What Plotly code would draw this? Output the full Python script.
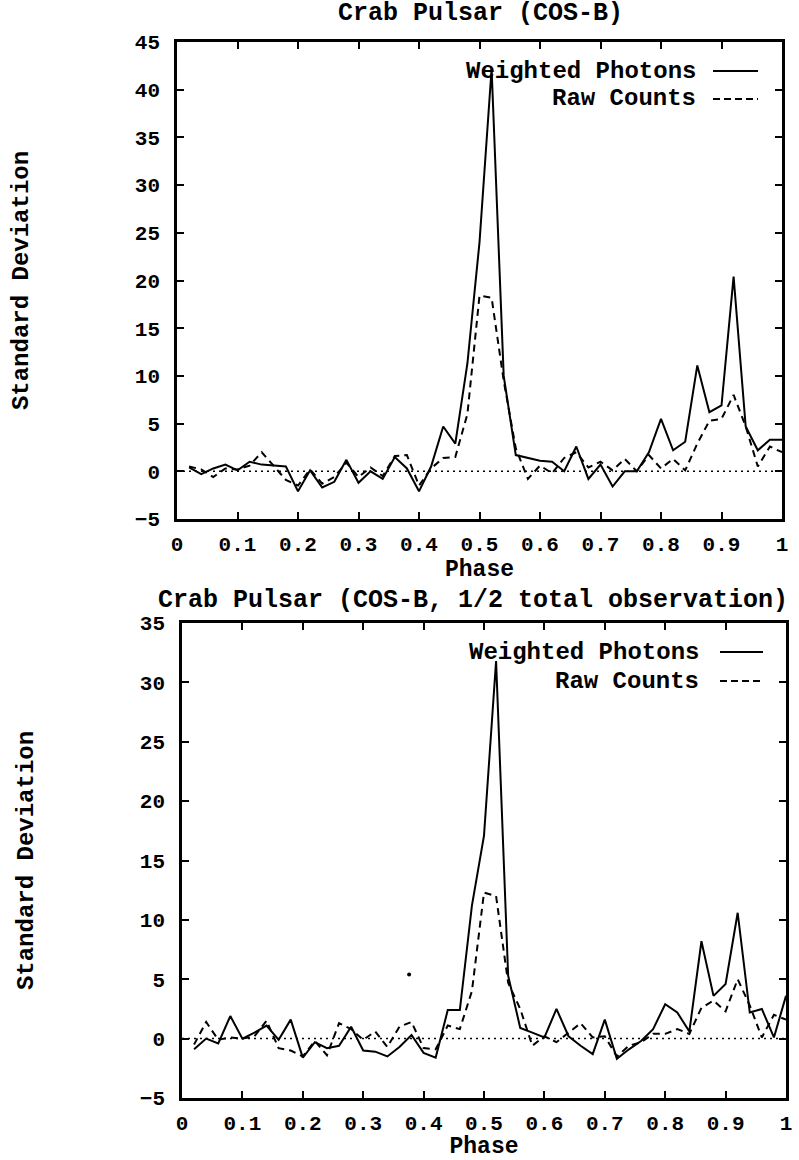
import plotly.graph_objects as go

# ---------------- data ----------------
phase = [round(0.02 * k, 2) for k in range(1, 51)]

top_weighted = [0.4, -0.3, 0.3, 0.7, 0.1, 1.0, 0.7, 0.6, 0.5, -2.1,
                0.1, -1.7, -1.1, 1.2, -1.2, 0.0, -0.8, 1.5, 0.3, -2.1,
                0.5, 4.7, 2.9, 11.3, 24.0, 42.2, 10.0, 1.7, 1.4, 1.1,
                1.0, 0.0, 2.6, -0.8, 0.7, -1.6, 0.0, 0.0, 2.0, 5.5,
                2.2, 3.1, 11.1, 6.2, 6.9, 20.4, 4.7, 2.2, 3.3, 3.3]
top_raw = [0.5, 0.2, -0.6, 0.3, 0.2, 0.6, 2.0, 0.6, -0.9, -1.5,
           0.2, -1.3, -0.6, 0.9, -0.6, 0.4, -0.5, 1.6, 1.7, -1.5,
           0.3, 1.4, 1.5, 6.0, 18.4, 18.2, 9.5, 2.4, -0.8, 0.6,
           -0.2, 1.4, 2.0, 0.4, 1.0, 0.1, 1.3, 0.0, 1.7, 0.3,
           1.3, 0.1, 2.9, 5.3, 5.5, 8.0, 4.7, 0.5, 2.6, 2.0]

bot_weighted = [-0.9, 0.0, -0.4, 1.9, 0.0, 0.5, 1.1, -0.1, 1.6, -1.6,
                -0.3, -0.8, -0.6, 1.0, -1.0, -1.1, -1.5, -0.7, 0.3, -1.2,
                -1.6, 2.4, 2.4, 11.2, 17.1, 31.8, 5.3, 0.9, 0.5, 0.1,
                2.5, 0.2, -0.6, -1.3, 1.6, -1.7, -0.9, -0.2, 0.8, 2.9,
                2.2, 0.6, 8.2, 3.6, 4.6, 10.6, 2.2, 2.5, 0.1, 3.6]
bot_raw = [-0.5, 1.4, -0.1, 0.1, 0.0, 0.2, 1.5, -0.8, -1.0, -1.5,
           -0.2, -1.4, 1.3, 0.8, -0.1, 0.6, -0.7, 1.0, 1.4, -0.8,
           -0.9, 1.1, 0.8, 4.0, 12.3, 12.0, 4.7, 2.5, -0.6, 0.2,
           -0.3, 0.5, 1.3, 0.1, 0.2, -1.5, -0.6, -0.3, 0.4, 0.4,
           0.8, 0.4, 2.6, 3.2, 2.3, 5.0, 2.8, 0.1, 2.0, 1.6]

stray_phase = [0.376]
stray_value = [5.4]

x_ticks = [0, 0.1, 0.2, 0.3, 0.4, 0.5, 0.6, 0.7, 0.8, 0.9, 1]
x_tick_labels = ["0", "0.1", "0.2", "0.3", "0.4", "0.5", "0.6", "0.7", "0.8", "0.9", "1"]
top_titles = ["Crab Pulsar (COS-B)", "Crab Pulsar (COS-B, 1/2 total observation)"]
series_names = ["Weighted Photons", "Raw Counts"]

# ---------------- figure ----------------
W, H = 799, 1160
FONT = "Liberation Mono"

def px(x):
    return x / W

def py(y):
    return 1 - y / H

fig = go.Figure()

line_solid = dict(color="black", width=2)
line_dash = dict(color="black", width=2, dash="7px,5px")

fig.add_trace(go.Scatter(x=phase, y=top_weighted, mode="lines", line=line_solid,
                         name=series_names[0], xaxis="x", yaxis="y", showlegend=False))
fig.add_trace(go.Scatter(x=phase, y=top_raw, mode="lines", line=line_dash,
                         name=series_names[1], xaxis="x", yaxis="y", showlegend=False))
fig.add_trace(go.Scatter(x=phase, y=bot_weighted, mode="lines", line=line_solid,
                         name=series_names[0], xaxis="x2", yaxis="y2", showlegend=False))
fig.add_trace(go.Scatter(x=phase, y=bot_raw, mode="lines", line=line_dash,
                         name=series_names[1], xaxis="x2", yaxis="y2", showlegend=False))
fig.add_trace(go.Scatter(x=stray_phase, y=stray_value, mode="markers",
                         marker=dict(color="black", size=4), xaxis="x2", yaxis="y2",
                         showlegend=False, hoverinfo="skip"))

tickfont = dict(family=FONT, size=21, color="black", weight="bold")
titlefont = dict(family=FONT, size=23, color="black", weight="bold")
ytitlefont = dict(family=FONT, size=24, color="black", weight="bold")

def xaxis(domain, anchor):
    return dict(domain=domain, anchor=anchor, range=[0, 1], tickvals=x_ticks,
                ticktext=x_tick_labels, ticks="inside", ticklen=7, tickwidth=1.5,
                tickcolor="black", showline=True, linecolor="black", linewidth=2.5,
                mirror="ticks", showgrid=False, zeroline=False, tickfont=tickfont,
                ticklabelstandoff=4, automargin=False,
                title=dict(text="Phase", font=titlefont, standoff=0))

def yaxis(domain, anchor, rng):
    return dict(domain=domain, anchor=anchor, range=rng, dtick=5, tick0=0,
                ticks="inside", ticklen=7, tickwidth=1.5, tickcolor="black",
                showline=True, linecolor="black", linewidth=2.5, mirror="ticks",
                showgrid=False, zeroline=False, tickfont=tickfont,
                ticklabelstandoff=10, automargin=False,
                title=dict(text="Standard Deviation", font=ytitlefont, standoff=100))

top_x = [px(177), px(782)]
top_y = [py(519), py(42)]
bot_x = [px(182), px(786)]
bot_y = [py(1098), py(623)]

fig.update_layout(
    template="none",
    width=W, height=H,
    margin=dict(l=0, r=0, t=0, b=0, autoexpand=False),
    paper_bgcolor="white", plot_bgcolor="white",
    font=dict(family=FONT, color="black"),
    showlegend=False,
    xaxis=xaxis(top_x, "y"),
    yaxis=yaxis(top_y, "x", [-5, 45]),
    xaxis2=xaxis(bot_x, "y2"),
    yaxis2=yaxis(bot_y, "x2", [-5, 35]),
)

# dotted zero lines
for xr, yr in (("x", "y"), ("x2", "y2")):
    fig.add_shape(type="line", xref=xr, yref=yr, x0=0, x1=1, y0=0, y1=0,
                  line=dict(color="black", width=1.5, dash="2px,4px"))

headfont = dict(family=FONT, size=25, color="black", weight="bold")
annfont = dict(family=FONT, size=24, color="black", weight="bold")

# titles
fig.add_annotation(text=top_titles[0], x=px(480), y=py(14), xref="paper", yref="paper",
                   showarrow=False, font=headfont, xanchor="center", yanchor="middle")
fig.add_annotation(text=top_titles[1], x=px(473), y=py(600), xref="paper", yref="paper",
                   showarrow=False, font=headfont, xanchor="center", yanchor="middle")

# legends (text on the left, line sample on the right)
legend_rows = [
    (71, 99, 697, 713, 758),     # top plot: y row1, y row2, text right, line x0, line x1
    (652, 681, 700, 720, 763),   # bottom plot
]
for r1, r2, tx, lx0, lx1 in legend_rows:
    for yy, name, dash in ((r1, series_names[0], None), (r2, series_names[1], "7px,4px")):
        fig.add_annotation(text=name, x=px(tx), y=py(yy), xref="paper", yref="paper",
                           showarrow=False, font=annfont, xanchor="right", yanchor="middle",
                           borderpad=0)
        ln = dict(color="black", width=2)
        if dash:
            ln["dash"] = dash
        fig.add_shape(type="line", xref="paper", yref="paper", x0=px(lx0), x1=px(lx1),
                      y0=py(yy), y1=py(yy), line=ln)

fig.write_html("out.html",
               config={"displayModeBar": False},
               post_script="document.body.style.margin='0';"
                           "document.body.style.overflow='hidden';"
                           "document.documentElement.style.overflow='hidden';")
